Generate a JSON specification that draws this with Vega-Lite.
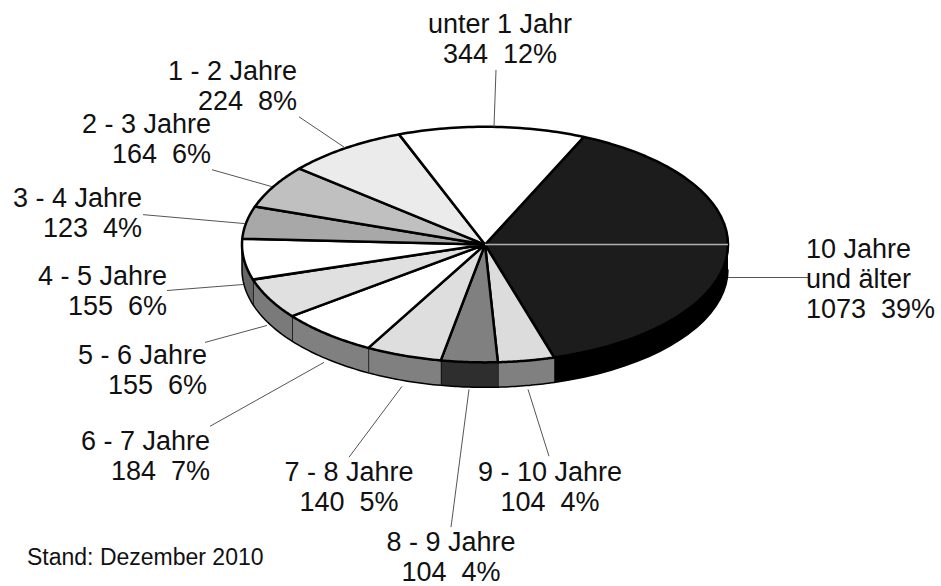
{
"$schema":"https://vega.github.io/schema/vega-lite/v6.json",
"width":941,"height":586,"autosize":{"type":"fit","contains":"padding"},"padding":0,"background":"white",
"config":{"view":{"stroke":null}},
"resolve":{"scale":{"fill":"independent"}},
"datasets":{
"slices":[
{"reihe":1,"klasse":"10 Jahre und älter","anzahl":1073,"anteil":39,"text":"10 Jahre\nund älter\n1073\u00a0 39%","ausrichtung":"left","tx":806,"ty":258,"x1":808,"y1":278,"x2":728,"y2":278},
{"reihe":2,"klasse":"9 - 10 Jahre","anzahl":104,"anteil":4,"text":"9 - 10 Jahre\n104\u00a0 4%","ausrichtung":"center","tx":550,"ty":482,"x1":549,"y1":457,"x2":528,"y2":390},
{"reihe":3,"klasse":"8 - 9 Jahre","anzahl":104,"anteil":4,"text":"8 - 9 Jahre\n104\u00a0 4%","ausrichtung":"center","tx":451,"ty":552,"x1":451,"y1":528,"x2":469,"y2":390},
{"reihe":4,"klasse":"7 - 8 Jahre","anzahl":140,"anteil":5,"text":"7 - 8 Jahre\n140\u00a0 5%","ausrichtung":"center","tx":349,"ty":482,"x1":349,"y1":458,"x2":402,"y2":387},
{"reihe":5,"klasse":"6 - 7 Jahre","anzahl":184,"anteil":7,"text":"6 - 7 Jahre\n184\u00a0 7%","ausrichtung":"right","tx":210,"ty":451,"x1":210,"y1":427,"x2":324,"y2":363},
{"reihe":6,"klasse":"5 - 6 Jahre","anzahl":155,"anteil":6,"text":"5 - 6 Jahre\n155\u00a0 6%","ausrichtung":"right","tx":207,"ty":365,"x1":205,"y1":343,"x2":267,"y2":326},
{"reihe":7,"klasse":"4 - 5 Jahre","anzahl":155,"anteil":6,"text":"4 - 5 Jahre\n155\u00a0 6%","ausrichtung":"right","tx":167,"ty":285,"x1":167,"y1":291,"x2":243,"y2":285},
{"reihe":8,"klasse":"3 - 4 Jahre","anzahl":123,"anteil":4,"text":"3 - 4 Jahre\n123\u00a0 4%","ausrichtung":"right","tx":142,"ty":207,"x1":143,"y1":215,"x2":245,"y2":224},
{"reihe":9,"klasse":"2 - 3 Jahre","anzahl":164,"anteil":6,"text":"2 - 3 Jahre\n164\u00a0 6%","ausrichtung":"right","tx":211,"ty":133,"x1":212,"y1":170,"x2":272,"y2":187},
{"reihe":10,"klasse":"1 - 2 Jahre","anzahl":224,"anteil":8,"text":"1 - 2 Jahre\n224\u00a0 8%","ausrichtung":"right","tx":297,"ty":80,"x1":299,"y1":117,"x2":345,"y2":148},
{"reihe":11,"klasse":"unter 1 Jahr","anzahl":344,"anteil":12,"text":"unter 1 Jahr\n344\u00a0 12%","ausrichtung":"center","tx":500,"ty":33,"x1":496,"y1":70,"x2":494,"y2":127}
],
"note":[{"text":"Stand: Dezember 2010","tx":27,"ty":566}],
"trenn":[{"x1":485,"x2":728,"y1":245}]
},
"layer":[
{"data":{"name":"slices"},
"transform":[
{"joinaggregate":[{"op":"sum","field":"anzahl","as":"gesamt"}]},
{"window":[{"op":"sum","field":"anzahl","as":"kum"}],"sort":[{"field":"reihe","order":"ascending"}]},
{"calculate":"24+360*(datum.kum-datum.anzahl)/datum.gesamt","as":"a0"},
{"calculate":"24+360*datum.kum/datum.gesamt","as":"a1"},
{"filter":"datum.a1>90 && datum.a0<270"},
{"calculate":"max(datum.a0,90)","as":"lo"},
{"calculate":"min(datum.a1,270)","as":"hi"},
{"calculate":"sequence(0,42)","as":"k"},
{"flatten":["k"]},
{"calculate":"datum.k<=20?datum.k/20:(41-datum.k)/20","as":"t"},
{"calculate":"(datum.lo+(datum.hi-datum.lo)*datum.t)*PI/180","as":"th"},
{"calculate":"485+243*sin(datum.th)","as":"px"},
{"calculate":"245-118*cos(datum.th)+(datum.k>20?25:0)","as":"py"}
],
"mark":{"type":"line","filled":true,"stroke":"black","strokeWidth":1.5,"strokeJoin":"round"},
"encoding":{
"x":{"field":"px","type":"quantitative","scale":{"domain":[0,941],"nice":false,"zero":false},"axis":null},
"y":{"field":"py","type":"quantitative","scale":{"domain":[0,586],"reverse":true,"nice":false,"zero":false},"axis":null},
"order":{"field":"k","type":"quantitative"},
"detail":{"field":"klasse"},
"fill":{"field":"klasse","type":"nominal","legend":null,"scale":{"domain":["10 Jahre und älter","9 - 10 Jahre","8 - 9 Jahre","7 - 8 Jahre","6 - 7 Jahre","5 - 6 Jahre","4 - 5 Jahre"],"range":["#000000","#808080","#2e2e2e","#808080","#808080","#7a7a7a","#666666"]}}
}},
{"data":{"name":"slices"},
"transform":[
{"joinaggregate":[{"op":"sum","field":"anzahl","as":"gesamt"}]},
{"window":[{"op":"sum","field":"anzahl","as":"kum"}],"sort":[{"field":"reihe","order":"ascending"}]},
{"calculate":"24+360*(datum.kum-datum.anzahl)/datum.gesamt","as":"a0"},
{"calculate":"24+360*datum.kum/datum.gesamt","as":"a1"},
{"calculate":"sequence(-1,42)","as":"k"},
{"flatten":["k"]},
{"calculate":"(datum.a0+(datum.a1-datum.a0)*datum.k/40)*PI/180","as":"th"},
{"calculate":"(datum.k<0||datum.k>40)?485:485+243*sin(datum.th)","as":"px"},
{"calculate":"(datum.k<0||datum.k>40)?245:245-118*cos(datum.th)","as":"py"}
],
"mark":{"type":"line","filled":true,"stroke":"black","strokeWidth":2.5,"strokeJoin":"round"},
"encoding":{
"x":{"field":"px","type":"quantitative","scale":{"domain":[0,941],"nice":false,"zero":false},"axis":null},
"y":{"field":"py","type":"quantitative","scale":{"domain":[0,586],"reverse":true,"nice":false,"zero":false},"axis":null},
"order":{"field":"k","type":"quantitative"},
"detail":{"field":"klasse"},
"fill":{"field":"klasse","type":"nominal","legend":null,"scale":{"domain":["10 Jahre und älter","9 - 10 Jahre","8 - 9 Jahre","7 - 8 Jahre","6 - 7 Jahre","5 - 6 Jahre","4 - 5 Jahre","3 - 4 Jahre","2 - 3 Jahre","1 - 2 Jahre","unter 1 Jahr"],"range":["#1c1c1c","#dcdcdc","#808080","#dedede","#ffffff","#e0e0e0","#ffffff","#a8a8a8","#c0c0c0","#ebebeb","#ffffff"]}}
}},
{"data":{"name":"trenn"},
"mark":{"type":"rule","stroke":"#b0b0b0","strokeWidth":1.5},
"encoding":{
"x":{"field":"x1","type":"quantitative","scale":{"domain":[0,941],"nice":false,"zero":false},"axis":null},
"x2":{"field":"x2"},
"y":{"field":"y1","type":"quantitative","scale":{"domain":[0,586],"reverse":true,"nice":false,"zero":false},"axis":null}
}},
{"data":{"name":"slices"},
"mark":{"type":"rule","stroke":"#555555","strokeWidth":1},
"encoding":{
"x":{"field":"x1","type":"quantitative","scale":{"domain":[0,941],"nice":false,"zero":false},"axis":null},
"x2":{"field":"x2"},
"y":{"field":"y1","type":"quantitative","scale":{"domain":[0,586],"reverse":true,"nice":false,"zero":false},"axis":null},
"y2":{"field":"y2"}
}},
{"data":{"name":"slices"},"transform":[{"filter":"datum.ausrichtung==='right'"}],
"mark":{"type":"text","align":"right","baseline":"alphabetic","font":"Liberation Sans","fontSize":27,"lineHeight":30,"lineBreak":"\n","fill":"#111111"},
"encoding":{
"x":{"field":"tx","type":"quantitative","scale":{"domain":[0,941],"nice":false,"zero":false},"axis":null},
"y":{"field":"ty","type":"quantitative","scale":{"domain":[0,586],"reverse":true,"nice":false,"zero":false},"axis":null},
"text":{"field":"text"}
}},
{"data":{"name":"slices"},"transform":[{"filter":"datum.ausrichtung==='center'"}],
"mark":{"type":"text","align":"center","baseline":"alphabetic","font":"Liberation Sans","fontSize":27,"lineHeight":30,"lineBreak":"\n","fill":"#111111"},
"encoding":{
"x":{"field":"tx","type":"quantitative","scale":{"domain":[0,941],"nice":false,"zero":false},"axis":null},
"y":{"field":"ty","type":"quantitative","scale":{"domain":[0,586],"reverse":true,"nice":false,"zero":false},"axis":null},
"text":{"field":"text"}
}},
{"data":{"name":"slices"},"transform":[{"filter":"datum.ausrichtung==='left'"}],
"mark":{"type":"text","align":"left","baseline":"alphabetic","font":"Liberation Sans","fontSize":27,"lineHeight":30,"lineBreak":"\n","fill":"#111111"},
"encoding":{
"x":{"field":"tx","type":"quantitative","scale":{"domain":[0,941],"nice":false,"zero":false},"axis":null},
"y":{"field":"ty","type":"quantitative","scale":{"domain":[0,586],"reverse":true,"nice":false,"zero":false},"axis":null},
"text":{"field":"text"}
}},
{"data":{"name":"note"},
"mark":{"type":"text","align":"left","baseline":"alphabetic","font":"Liberation Sans","fontSize":23,"fill":"#111111"},
"encoding":{
"x":{"field":"tx","type":"quantitative","scale":{"domain":[0,941],"nice":false,"zero":false},"axis":null},
"y":{"field":"ty","type":"quantitative","scale":{"domain":[0,586],"reverse":true,"nice":false,"zero":false},"axis":null},
"text":{"field":"text"}
}}
]
}
